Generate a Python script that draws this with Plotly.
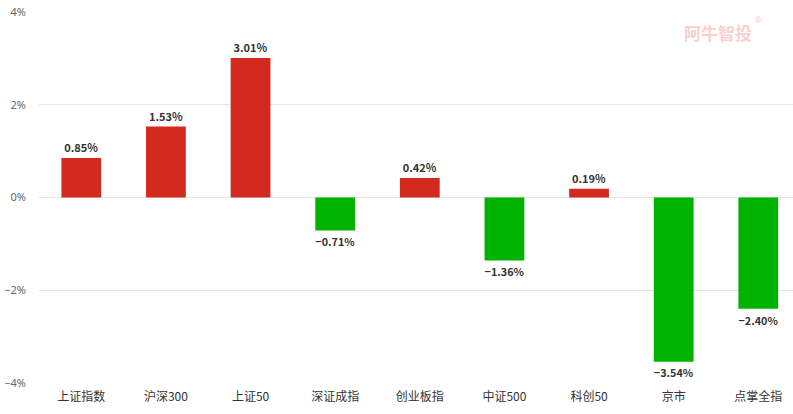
import plotly.graph_objects as go

categories = ["上证指数", "沪深300", "上证50", "深证成指", "创业板指", "中证500", "科创50", "京市", "点掌全指"]
values = [0.85, 1.53, 3.01, -0.71, 0.42, -1.36, 0.19, -3.54, -2.40]
tick_vals = [-4, -2, 0, 2, 4]
tick_text = ["−4%", "−2%", "0%", "2%", "4%"]

RED = "#D32A20"
GREEN = "#00B300"
colors = [RED if v >= 0 else GREEN for v in values]
labels = [("%.2f%%" % v).replace("-", "−") for v in values]

fig = go.Figure(go.Bar(
    x=categories, y=values, marker_color=colors, marker_line_width=0,
    width=0.47, text=labels, textposition="outside", cliponaxis=False,
    textfont=dict(family="Noto Sans CJK SC", size=11, color="#333333", weight="bold"),
))

fig.add_annotation(xref="paper", yref="paper", x=0.948, y=0.985, xanchor="right", yanchor="top",
                   text="阿牛智投", showarrow=False,
                   font=dict(family="Noto Sans CJK SC", size=17, color="#F8D0D0", weight="bold"))
fig.add_annotation(xref="paper", yref="paper", x=0.962, y=1.0, xanchor="right", yanchor="top",
                   text="®", showarrow=False,
                   font=dict(family="Noto Sans", size=8, color="#F8D0D0"))

fig.update_layout(
    width=793, height=414,
    margin=dict(l=39, r=0, t=12, b=31),
    paper_bgcolor="white", plot_bgcolor="white",
    showlegend=False,
    font=dict(family="Noto Sans CJK SC"),
    xaxis=dict(type="category", range=[-0.5, 8.41], showgrid=False, showline=False, ticks="",
               tickfont=dict(size=12, color="#333333"), fixedrange=True, ticklabelstandoff=5),
    yaxis=dict(range=[-4, 4], tickvals=tick_vals, ticktext=tick_text, showgrid=True,
               gridcolor="#E6E6E6", gridwidth=1, zeroline=False, showline=False,
               tickfont=dict(size=11, color="#666666", family="Noto Sans"), ticklabelstandoff=12),
)

fig.write_html("out.html")
